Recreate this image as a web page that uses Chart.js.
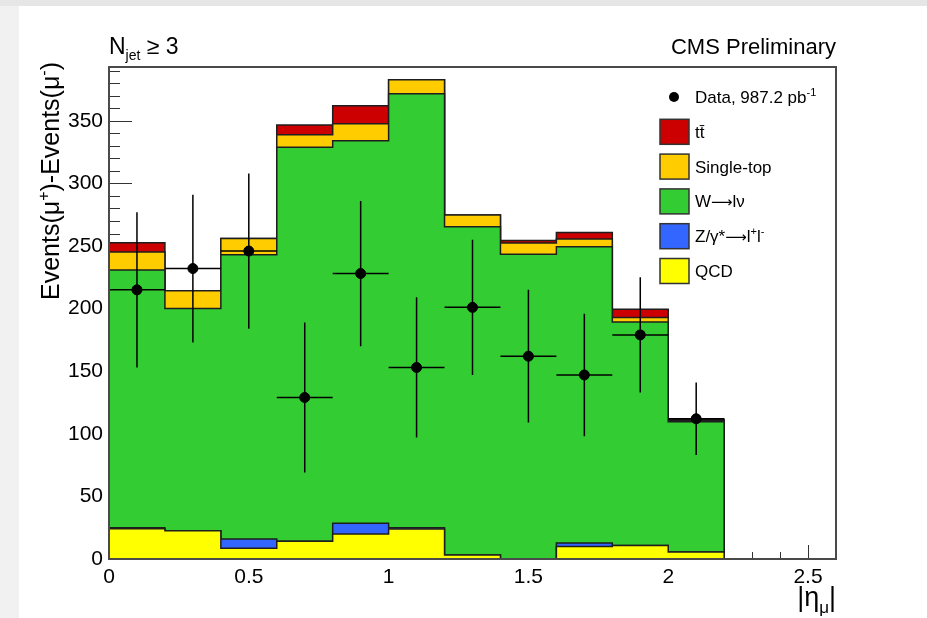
<!DOCTYPE html>
<html>
<head>
<meta charset="utf-8">
<title>Muon charge asymmetry vs |eta|</title>
<script src="https://cdn.jsdelivr.net/npm/chart.js@4.4.1/dist/chart.umd.min.js"></script>
<style>
  html, body { margin: 0; padding: 0; }
  body { width: 927px; height: 618px; background: #f1f1f1; position: relative; overflow: hidden; }
  #topStrip { position: absolute; left: 0; top: 0; width: 927px; height: 6px; background: #e6e6e6; }
  #sheet { position: absolute; left: 19px; top: 6px; right: 0; bottom: 0; background: #fff; }
  #plot { position: absolute; left: 0; top: 0; }
</style>
</head>
<body>
<div id="topStrip"></div>
<div id="sheet"></div>
<canvas id="plot" width="927" height="618"></canvas>
<script>
// |eta| bin edges (0.2 wide, 11 bins)
const binEdges = [0, 0.2, 0.4, 0.6, 0.8, 1.0, 1.2, 1.4, 1.6, 1.8, 2.0, 2.2];

// expected mu+ minus mu- yields per bin, one array per process
const qcd       = [24.2, 22.6, 8.5, 14.1, 20.0, 24.0, 3.2, 0, 9.9, 10.7, 5.6];
const zll       = [0.8, 0, 7.5, 0, 8.5, 1.0, 0, 0, 2.9, 0, 0];
const wlnu      = [205.8, 177.4, 227.0, 314.7, 305.6, 346.7, 262.2, 243.4, 236.7, 178.6, 104.1];
const singleTop = [14.4, 14.3, 13.0, 10.1, 13.6, 11.2, 9.4, 9.0, 6.1, 3.7, 1.0];
const ttbar     = [7.4, 0, 0, 7.7, 14.3, 0, 0, 2.1, 5.3, 6.4, 1.0];

// observed difference and its uncertainty
const dataVals = [215, 232, 246, 129, 228, 153, 201, 162, 147, 179, 112];
const dataErr  = [62, 59, 62, 60, 58, 56, 54, 53, 49, 46, 29];

const yTickValues = [0, 50, 100, 150, 200, 250, 300, 350];

const FONT = '"Liberation Sans", Arial, Helvetica, sans-serif';
const SYMFONT = '"DejaVu Sans", sans-serif';

// stack from the bottom up: QCD, Z, W, single top, ttbar
const stackDefs = [
  { label: 'QCD',                 values: qcd,       color: '#ffff00' },
  { label: 'Z/γ*~{⟶}l^{+}l^{-}',  values: zll,       color: '#3366ff' },
  { label: 'W~{⟶}lν',             values: wlnu,      color: '#33cc33' },
  { label: 'Single-top',          values: singleTop, color: '#ffcc00' },
  { label: 'tt\u0304',            values: ttbar,     color: '#cc0000' }
];

let running = new Array(dataVals.length).fill(0);
const stackSets = stackDefs.map((d, k) => {
  running = running.map((v, i) => v + d.values[i]);
  const top = running.slice();
  // one point per low edge; the histogram drops to zero at the last edge
  const pts = binEdges.map((e, i) => ({ x: e, y: i < top.length ? top[i] : 0 }));
  return {
    label: d.label,
    data: pts,
    stepped: 'before',
    borderColor: '#1e1e1e',
    borderWidth: 1.5,
    backgroundColor: d.color,
    fill: k === 0 ? 'origin' : '-1',
    pointRadius: 0,
    tension: 0
  };
});

const dataSet = {
  label: 'Data, 987.2 pb^{-1}',
  data: dataVals.map((v, i) => ({ x: (binEdges[i] + binEdges[i + 1]) / 2, y: v })),
  showLine: false,
  pointRadius: 5,
  pointHoverRadius: 5,
  pointBackgroundColor: '#000',
  pointBorderColor: '#000',
  borderColor: '#000',
  fill: false
};

// tiny markup: ^{..} superscript, _{..} subscript, ~{..} symbol font
function parseRich(s) {
  const parts = [];
  const re = /([\^_~])\{([^}]*)\}/g;
  let last = 0, m;
  while ((m = re.exec(s)) !== null) {
    if (m.index > last) parts.push({ t: s.slice(last, m.index), mode: 'n' });
    parts.push({ t: m[2], mode: m[1] === '^' ? 'sup' : (m[1] === '_' ? 'sub' : 'sym') });
    last = re.lastIndex;
  }
  if (last < s.length) parts.push({ t: s.slice(last), mode: 'n' });
  return parts;
}

function partFont(p, size) {
  if (p.mode === 'sym') return Math.round(size * 0.9) + 'px ' + SYMFONT;
  return (p.mode === 'n' ? size : Math.round(size * 0.62)) + 'px ' + FONT;
}

function drawRich(ctx, s, x, y, size, align) {
  const parts = parseRich(s);
  let w = 0;
  parts.forEach(p => { ctx.font = partFont(p, size); p.w = ctx.measureText(p.t).width; w += p.w; });
  let cx = align === 'right' ? x - w : (align === 'center' ? x - w / 2 : x);
  ctx.textAlign = 'left';
  ctx.textBaseline = 'alphabetic';
  parts.forEach(p => {
    ctx.font = partFont(p, size);
    let dy = 0;
    if (p.mode === 'sup') dy = -size * 0.42;
    if (p.mode === 'sub') dy = size * 0.25;
    ctx.fillText(p.t, cx, y + dy);
    cx += p.w;
  });
}

// ROOT-like frame: inward ticks, error bars, legend and labels
const rootStyle = {
  id: 'rootStyle',
  beforeDatasetsDraw(chart) {
    const { ctx, chartArea: a, scales: { x, y } } = chart;
    ctx.save();
    ctx.strokeStyle = '#333';
    ctx.lineWidth = 1;
    const xStep = 0.5, yStep = 50;
    for (let v = x.min; v <= x.max + 1e-9; v += xStep / 5) {
      const px = Math.round(x.getPixelForValue(v)) + 0.5;
      const major = Math.abs(v / xStep - Math.round(v / xStep)) < 1e-6;
      ctx.beginPath();
      ctx.moveTo(px, a.bottom);
      ctx.lineTo(px, a.bottom - (major ? 14 : 7));
      ctx.stroke();
    }
    for (let v = y.min; v <= y.max + 1e-9; v += yStep / 5) {
      const py = Math.round(y.getPixelForValue(v)) + 0.5;
      const major = Math.abs(v / yStep - Math.round(v / yStep)) < 1e-6;
      ctx.beginPath();
      ctx.moveTo(a.left, py);
      ctx.lineTo(a.left + (major ? 23 : 11), py);
      ctx.stroke();
    }
    ctx.restore();
  },
  afterDatasetsDraw(chart) {
    const { ctx, chartArea: a, scales: { x, y } } = chart;
    ctx.save();
    // data error bars
    ctx.strokeStyle = '#000';
    ctx.lineWidth = 1.5;
    dataVals.forEach((v, i) => {
      const cx = x.getPixelForValue((binEdges[i] + binEdges[i + 1]) / 2);
      const cy = y.getPixelForValue(v);
      ctx.beginPath();
      ctx.moveTo(x.getPixelForValue(binEdges[i]), cy);
      ctx.lineTo(x.getPixelForValue(binEdges[i + 1]), cy);
      ctx.moveTo(cx, y.getPixelForValue(v + dataErr[i]));
      ctx.lineTo(cx, y.getPixelForValue(Math.max(0, v - dataErr[i])));
      ctx.stroke();
    });

    // frame
    ctx.strokeStyle = '#4a4a4a';
    ctx.lineWidth = 2;
    ctx.strokeRect(a.left, a.top, a.right - a.left, a.bottom - a.top);

    // legend
    ctx.fillStyle = '#000';
    const rowY = k => 97 + k * 34.8;
    ctx.beginPath();
    ctx.arc(674, rowY(0), 5, 0, Math.PI * 2);
    ctx.fill();
    drawRich(ctx, chart.data.datasets[0].label, 695, rowY(0) + 6, 17, 'left');
    const stacks = chart.data.datasets.slice(1).reverse();
    stacks.forEach((ds, k) => {
      const cy = rowY(k + 1);
      ctx.fillStyle = ds.backgroundColor;
      ctx.fillRect(660, cy - 12.5, 29, 25);
      ctx.strokeStyle = '#333';
      ctx.lineWidth = 1.5;
      ctx.strokeRect(660, cy - 12.5, 29, 25);
      ctx.fillStyle = '#000';
      drawRich(ctx, ds.label, 695, cy + 6, 17, 'left');
    });

    // labels around the frame
    drawRich(ctx, 'N_{jet} ≥ 3', 109, 54, 23, 'left');
    drawRich(ctx, 'CMS Preliminary', 836, 54, 22, 'right');
    drawRich(ctx, '|η_{μ}|', 836, 606, 27, 'right');

    ctx.translate(59, 62);
    ctx.rotate(-Math.PI / 2);
    drawRich(ctx, 'Events(μ^{+})-Events(μ^{-})', 0, 0, 25, 'right');
    ctx.restore();
  }
};

const tickFont = { family: FONT, size: 21 };

new Chart(document.getElementById('plot'), {
  type: 'line',
  data: { datasets: [dataSet].concat(stackSets) },
  options: {
    responsive: false,
    animation: false,
    devicePixelRatio: 1,
    layout: { padding: { top: 67, right: 91, left: 0, bottom: 0 } },
    plugins: { legend: { display: false }, tooltip: { enabled: false } },
    scales: {
      x: {
        type: 'linear',
        min: 0,
        max: 2.6,
        grid: { display: false, drawTicks: false },
        border: { display: false },
        ticks: {
          stepSize: 0.5, includeBounds: false, font: tickFont, color: '#000', padding: 6, maxRotation: 0,
          callback: v => String(Number(v.toFixed(2)))
        },
        afterFit(scale) { scale.height = 59; }
      },
      y: {
        type: 'linear',
        min: 0,
        max: 393,
        grid: { display: false, drawTicks: false },
        border: { display: false },
        afterBuildTicks(scale) { scale.ticks = yTickValues.map(v => ({ value: v })); },
        ticks: { font: tickFont, color: '#000', padding: 6 },
        afterFit(scale) { scale.width = 109; }
      }
    }
  },
  plugins: [rootStyle]
});
</script>
</body>
</html>
